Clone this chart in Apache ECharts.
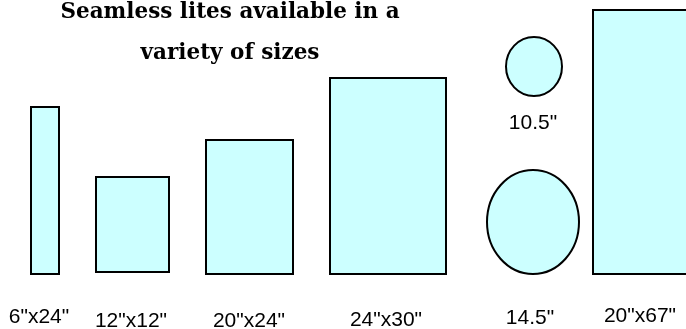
<!DOCTYPE html>
<html>
<head>
<meta charset="utf-8">
<script src="https://cdn.jsdelivr.net/npm/echarts@6/dist/echarts.min.js"></script>
<style>
  html, body { margin: 0; padding: 0; background: #fff; }
  #chart { width: 686px; height: 329px; }
</style>
</head>
<body>
<div id="chart"></div>
<script>
// lite sizes, drawn in picture units (x from left, y up from the baseline)
var sizeLabels = ['6"x24"', '12"x12"', '20"x24"', '24"x30"', '10.5"', '14.5"', '20"x67"'];
var shapeKinds = ['rect', 'rect', 'rect', 'rect', 'ellipse', 'ellipse', 'rect'];
var centerX    = [45, 132.5, 249.5, 388, 534, 533, 648];
var shapeWidth = [28, 73, 87, 116, 56, 92, 110];
var shapeHeight = [167, 95, 134, 196, 59, 104, 264];
var shapeBase  = [0, 2, 0, 0, 178, 0, 0];
var labelX     = [39, 131, 249, 386, 533, 530, 640];
var labelY     = [-43, -47, -47, -46, 151, -44, -42];

var titleLines = ['Seamless lites available in a', 'variety of sizes'];

var myChart = echarts.init(document.getElementById('chart'));

function renderLite(params, api) {
    var i = params.dataIndex;
    var cx = api.value(0), w = api.value(1), h = api.value(2), base = api.value(3);
    var topLeft = api.coord([cx - w / 2, base + h]);
    var botRight = api.coord([cx + w / 2, base]);
    var lab = api.coord([api.value(4), api.value(5)]);
    var shapeStyle = { fill: '#ccffff', stroke: '#000', lineWidth: 2 };
    var shape;
    if (shapeKinds[i] === 'ellipse') {
        shape = {
            type: 'ellipse',
            shape: {
                cx: (topLeft[0] + botRight[0]) / 2,
                cy: (topLeft[1] + botRight[1]) / 2,
                rx: (botRight[0] - topLeft[0]) / 2,
                ry: (botRight[1] - topLeft[1]) / 2
            },
            style: shapeStyle
        };
    } else {
        shape = {
            type: 'rect',
            shape: {
                x: topLeft[0], y: topLeft[1],
                width: botRight[0] - topLeft[0],
                height: botRight[1] - topLeft[1]
            },
            style: shapeStyle
        };
    }
    return {
        type: 'group',
        children: [
            shape,
            {
                type: 'text',
                x: lab[0], y: lab[1],
                style: {
                    text: sizeLabels[i],
                    fill: '#000',
                    font: '21px "Liberation Sans", Arial, sans-serif',
                    align: 'center',
                    verticalAlign: 'middle'
                }
            }
        ]
    };
}

var option = {
    animation: false,
    backgroundColor: '#fff',
    title: titleLines.map(function (line, k) {
        return {
            text: line,
            left: 230,
            top: k === 0 ? 1 : 42,
            padding: 0,
            textAlign: 'center',
            textStyle: {
                fontFamily: '"DejaVu Serif", serif',
                fontWeight: 'bold',
                fontSize: 21.5,
                color: '#000'
            }
        };
    }),
    grid: { left: 0, right: 0, top: 0, bottom: 55 },
    xAxis: { type: 'value', min: 0, max: 686, show: false },
    yAxis: { type: 'value', min: 0, max: 274, show: false },
    series: [{
        type: 'custom',
        renderItem: renderLite,
        data: sizeLabels.map(function (name, i) {
            return {
                name: name,
                value: [centerX[i], shapeWidth[i], shapeHeight[i], shapeBase[i], labelX[i], labelY[i]]
            };
        })
    }]
};

myChart.setOption(option);
</script>
</body>
</html>
